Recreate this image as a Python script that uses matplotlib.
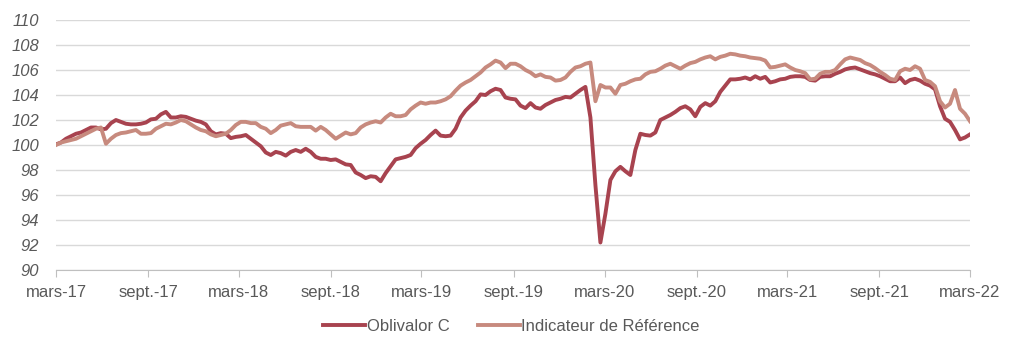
import matplotlib.pyplot as plt
import pandas as pd

# values, one point roughly every 10 days
dates = pd.date_range("2017-03-01", "2022-03-01", periods=184)

oblivalor = [
    100.05, 100.2, 100.5, 100.7, 100.9, 101.0, 101.2, 101.4, 101.4, 101.25,
    101.3, 101.75, 102.0, 101.85, 101.7, 101.65, 101.65, 101.7, 101.8, 102.05,
    102.1, 102.45, 102.65, 102.2, 102.2, 102.3, 102.25, 102.1, 101.95, 101.85,
    101.65, 101.1, 100.85, 100.95, 100.9, 100.55, 100.65, 100.7, 100.8, 100.5,
    100.2, 99.9, 99.4, 99.2, 99.45, 99.35, 99.15, 99.45, 99.6, 99.45,
    99.7, 99.45, 99.05, 98.9, 98.9, 98.8, 98.85, 98.65, 98.45, 98.4,
    97.8, 97.6, 97.35, 97.5, 97.45, 97.1, 97.75, 98.3, 98.85, 98.95,
    99.05, 99.2, 99.75, 100.1, 100.4, 100.8, 101.15, 100.75, 100.7, 100.75,
    101.3, 102.2, 102.75, 103.15, 103.5, 104.05, 104.0, 104.3, 104.5, 104.4,
    103.8, 103.7, 103.65, 103.15, 102.95, 103.35, 103.0, 102.9, 103.2, 103.4,
    103.6, 103.7, 103.85, 103.8, 104.1, 104.4, 104.65, 102.2, 96.8, 92.2,
    94.5, 97.2, 97.9, 98.25, 97.9, 97.6, 99.6, 100.9, 100.8, 100.75,
    101.0, 102.0, 102.2, 102.4, 102.65, 102.95, 103.1, 102.85, 102.3, 103.05,
    103.35, 103.15, 103.5, 104.25, 104.75, 105.25, 105.25, 105.3, 105.4, 105.25,
    105.5, 105.3, 105.45, 105.0, 105.1, 105.25, 105.3, 105.45, 105.5, 105.5,
    105.45, 105.2, 105.15, 105.45, 105.5, 105.5, 105.7, 105.85, 106.05, 106.15,
    106.2, 106.05, 105.9, 105.75, 105.65, 105.5, 105.3, 105.1, 105.1, 105.4,
    104.95, 105.2, 105.3, 105.15, 104.9, 104.75, 104.45, 103.1, 102.1, 101.85,
    101.2, 100.45, 100.6, 100.85,
]

reference = [
    100.0, 100.2, 100.3, 100.4, 100.5, 100.7, 100.9, 101.1, 101.3, 101.4,
    100.1, 100.5, 100.8, 100.95, 101.0, 101.1, 101.2, 100.9, 100.9, 100.95,
    101.3, 101.5, 101.7, 101.65, 101.8, 102.0, 101.9, 101.65, 101.4, 101.2,
    101.1, 100.85, 100.7, 100.8, 100.9, 101.2, 101.6, 101.85, 101.85, 101.75,
    101.75, 101.45, 101.3, 100.95, 101.2, 101.55, 101.65, 101.75, 101.5, 101.45,
    101.45, 101.45, 101.15, 101.45, 101.2, 100.85, 100.5, 100.75, 101.0, 100.85,
    100.95, 101.4, 101.65, 101.8, 101.9, 101.8, 102.2, 102.5, 102.3, 102.3,
    102.4, 102.85, 103.15, 103.4, 103.3, 103.4, 103.4, 103.5, 103.65, 103.9,
    104.35, 104.75, 105.0, 105.2, 105.5, 105.8, 106.2, 106.45, 106.75, 106.6,
    106.15, 106.5, 106.5, 106.3, 106.0, 105.8, 105.5, 105.65, 105.45, 105.4,
    105.15, 105.2, 105.4, 105.85, 106.2, 106.3, 106.5, 106.6, 103.5, 104.8,
    104.6, 104.6, 104.1, 104.8, 104.9, 105.1, 105.25, 105.3, 105.65, 105.85,
    105.9, 106.1, 106.35, 106.5, 106.3, 106.1, 106.35, 106.55, 106.65, 106.85,
    107.0, 107.1, 106.85, 107.05, 107.15, 107.3, 107.25, 107.15, 107.1, 107.0,
    106.95, 106.9, 106.75, 106.2, 106.25, 106.35, 106.45, 106.2, 106.0, 105.9,
    105.75, 105.25, 105.3, 105.7, 105.85, 105.85, 106.0, 106.45, 106.85, 107.0,
    106.9, 106.8, 106.55, 106.4, 106.15, 105.85, 105.6, 105.3, 105.2, 105.9,
    106.1, 106.0, 106.3, 106.1, 105.2, 105.05, 104.7, 103.5, 103.0, 103.3,
    104.4, 102.9, 102.5, 101.9,
]

tick_dates = pd.date_range("2017-03-01", "2022-03-01", freq="6MS")
tick_labels = ["mars-17", "sept.-17", "mars-18", "sept.-18", "mars-19", "sept.-19",
               "mars-20", "sept.-20", "mars-21", "sept.-21", "mars-22"]

plt.rcParams["font.family"] = ["Liberation Sans", "DejaVu Sans"]

fig = plt.figure(figsize=(10.23, 3.55), dpi=100)
ax = fig.add_axes([56 / 1023, 85 / 355, 914 / 1023, 250 / 355])

ax.plot(dates, oblivalor, color="#A8434F", lw=2.8, label="Oblivalor C", solid_joinstyle="round")
ax.plot(dates, reference, color="#C78A7E", lw=2.8, label="Indicateur de Référence", solid_joinstyle="round")

ax.set_ylim(90, 110)
ax.set_yticks(range(90, 111, 2))
ax.set_xlim(tick_dates[0], tick_dates[-1])
ax.set_xticks(tick_dates)
ax.set_xticklabels(tick_labels)

ax.grid(axis="y", color="#D9D9D9", lw=1)
ax.set_axisbelow(True)
for s in ["top", "right", "left"]:
    ax.spines[s].set_visible(False)
ax.spines["bottom"].set_color("#BFBFBF")

ax.tick_params(axis="x", colors="#BFBFBF", labelcolor="#595959", labelsize=12, length=5, pad=6)
ax.tick_params(axis="y", length=0, labelcolor="#595959", labelsize=12, pad=12)
for lab in ax.get_yticklabels():
    lab.set_fontstyle("italic")

fig.legend(loc="center", bbox_to_anchor=(0.5, 0.08), ncol=2, frameon=False,
           fontsize=12, labelcolor="#595959", handlelength=2.5, handletextpad=0.1,
           columnspacing=1.7)

fig.savefig("out.png", dpi=100)
